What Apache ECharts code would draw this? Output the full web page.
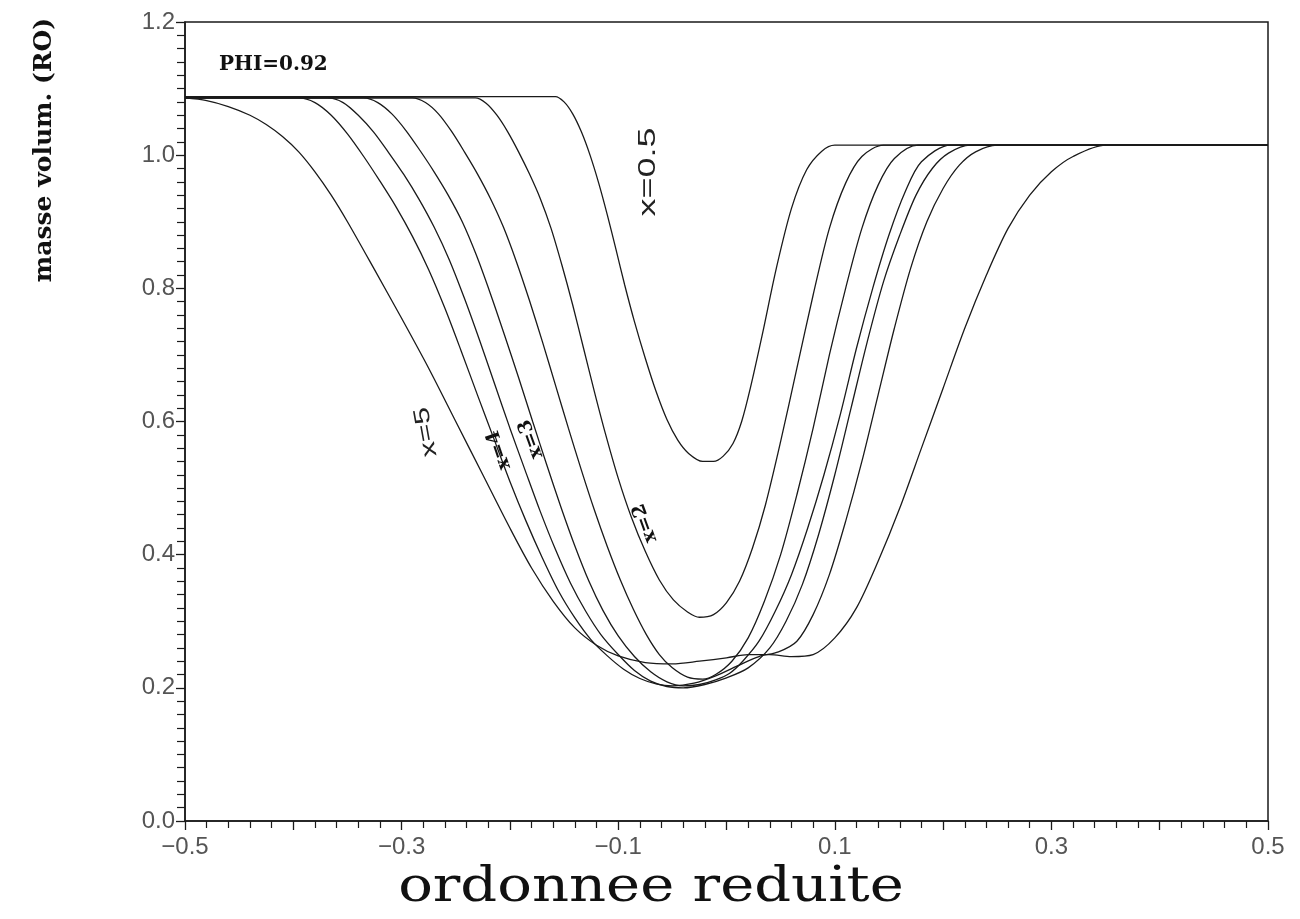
<!DOCTYPE html>
<html>
<head>
<meta charset="utf-8">
<script src="https://cdn.jsdelivr.net/npm/echarts@6/dist/echarts.min.js"></script>
<style>
html,body{margin:0;padding:0;background:#fff;}
#chart{width:1300px;height:919px;}
</style>
</head>
<body>
<div id="chart"></div>
<script>
// profils de masse volumique, PHI=0.92 : [ordonnee reduite, masse volum.]
var curveX05 = [[-0.5,1.088],[-0.158,1.088],[-0.15,1.08],[-0.142,1.062],[-0.134,1.035],[-0.126,1.0],[-0.118,0.958],[-0.11,0.91],[-0.102,0.858],[-0.094,0.805],[-0.085,0.75],[-0.075,0.695],[-0.065,0.645],[-0.055,0.603],[-0.045,0.572],[-0.035,0.552],[-0.022,0.54],[-0.012,0.54],[-0.003,0.548],[0.006,0.567],[0.014,0.6],[0.022,0.65],[0.033,0.73],[0.046,0.83],[0.06,0.92],[0.074,0.978],[0.088,1.006],[0.1,1.015],[0.5,1.015]];
var curveX2 = [[-0.5,1.086],[-0.232,1.086],[-0.222,1.078],[-0.212,1.06],[-0.202,1.035],[-0.192,1.005],[-0.182,0.972],[-0.172,0.935],[-0.162,0.89],[-0.152,0.835],[-0.142,0.775],[-0.132,0.71],[-0.122,0.645],[-0.112,0.583],[-0.1,0.515],[-0.088,0.457],[-0.075,0.405],[-0.062,0.362],[-0.049,0.332],[-0.036,0.314],[-0.025,0.306],[-0.012,0.31],[0,0.328],[0.012,0.36],[0.024,0.41],[0.036,0.475],[0.05,0.57],[0.065,0.68],[0.08,0.79],[0.095,0.89],[0.11,0.958],[0.125,0.998],[0.145,1.015],[0.5,1.015]];
var curve3 = [[-0.5,1.086],[-0.29,1.086],[-0.278,1.079],[-0.266,1.062],[-0.254,1.036],[-0.242,1.005],[-0.23,0.972],[-0.218,0.935],[-0.206,0.892],[-0.194,0.84],[-0.182,0.782],[-0.17,0.72],[-0.158,0.655],[-0.146,0.59],[-0.134,0.527],[-0.122,0.467],[-0.11,0.412],[-0.098,0.362],[-0.086,0.318],[-0.074,0.28],[-0.062,0.25],[-0.05,0.23],[-0.036,0.216],[-0.022,0.213],[-0.01,0.22],[0.005,0.24],[0.02,0.275],[0.035,0.33],[0.05,0.4],[0.065,0.49],[0.08,0.59],[0.095,0.7],[0.11,0.8],[0.125,0.89],[0.14,0.955],[0.155,0.995],[0.177,1.015],[0.5,1.015]];
var curve4 = [[-0.5,1.086],[-0.335,1.086],[-0.322,1.079],[-0.309,1.062],[-0.296,1.037],[-0.283,1.007],[-0.27,0.975],[-0.257,0.94],[-0.244,0.9],[-0.231,0.85],[-0.218,0.792],[-0.205,0.73],[-0.192,0.666],[-0.179,0.6],[-0.166,0.535],[-0.153,0.472],[-0.14,0.413],[-0.127,0.36],[-0.114,0.316],[-0.1,0.278],[-0.085,0.247],[-0.07,0.224],[-0.055,0.209],[-0.04,0.203],[-0.025,0.205],[-0.01,0.212],[0.003,0.222],[0.015,0.24],[0.03,0.27],[0.045,0.315],[0.06,0.37],[0.075,0.44],[0.09,0.52],[0.105,0.61],[0.12,0.71],[0.135,0.8],[0.15,0.88],[0.165,0.945],[0.18,0.99],[0.207,1.015],[0.5,1.015]];
var curve5 = [[-0.5,1.086],[-0.368,1.086],[-0.354,1.079],[-0.34,1.06],[-0.326,1.035],[-0.312,1.004],[-0.298,0.971],[-0.284,0.934],[-0.27,0.892],[-0.256,0.843],[-0.242,0.785],[-0.228,0.722],[-0.214,0.656],[-0.2,0.59],[-0.186,0.527],[-0.172,0.465],[-0.158,0.408],[-0.144,0.357],[-0.13,0.315],[-0.116,0.28],[-0.1,0.25],[-0.085,0.226],[-0.07,0.21],[-0.055,0.202],[-0.04,0.2],[-0.02,0.205],[0,0.215],[0.02,0.23],[0.04,0.26],[0.055,0.3],[0.07,0.355],[0.085,0.43],[0.1,0.52],[0.115,0.62],[0.13,0.72],[0.145,0.81],[0.16,0.88],[0.175,0.94],[0.19,0.98],[0.205,1.003],[0.225,1.015],[0.5,1.015]];
var curve6 = [[-0.5,1.086],[-0.395,1.086],[-0.38,1.079],[-0.365,1.06],[-0.35,1.032],[-0.335,0.998],[-0.32,0.961],[-0.305,0.922],[-0.29,0.878],[-0.275,0.828],[-0.26,0.77],[-0.245,0.706],[-0.23,0.64],[-0.215,0.575],[-0.2,0.51],[-0.185,0.45],[-0.17,0.395],[-0.155,0.345],[-0.14,0.305],[-0.125,0.272],[-0.11,0.248],[-0.095,0.228],[-0.08,0.214],[-0.065,0.206],[-0.05,0.203],[-0.03,0.207],[-0.01,0.218],[0.01,0.233],[0.03,0.247],[0.048,0.254],[0.065,0.27],[0.08,0.31],[0.095,0.37],[0.11,0.45],[0.125,0.54],[0.14,0.64],[0.155,0.74],[0.17,0.83],[0.185,0.9],[0.2,0.95],[0.215,0.985],[0.23,1.005],[0.25,1.015],[0.5,1.015]];
var curveX5 = [[-0.5,1.086],[-0.48,1.082],[-0.46,1.073],[-0.44,1.06],[-0.425,1.046],[-0.41,1.028],[-0.395,1.005],[-0.38,0.975],[-0.365,0.94],[-0.35,0.9],[-0.325,0.828],[-0.3,0.755],[-0.275,0.68],[-0.25,0.6],[-0.225,0.52],[-0.2,0.44],[-0.18,0.38],[-0.16,0.33],[-0.14,0.29],[-0.12,0.264],[-0.1,0.248],[-0.075,0.238],[-0.05,0.236],[-0.025,0.24],[0,0.245],[0.02,0.25],[0.04,0.25],[0.06,0.247],[0.08,0.25],[0.1,0.275],[0.12,0.32],[0.14,0.39],[0.16,0.47],[0.18,0.56],[0.2,0.65],[0.22,0.74],[0.24,0.82],[0.26,0.89],[0.28,0.94],[0.3,0.975],[0.32,0.998],[0.35,1.015],[0.5,1.015]];

var curves = [curveX05, curveX2, curve3, curve4, curve5, curve6, curveX5];
var curveNames = ["x=0.5", "x=2", "courbe 3", "courbe 4", "courbe 5", "courbe 6", "x=5"];
var xLabelValues = [-0.5, -0.3, -0.1, 0.1, 0.3, 0.5];

var myChart = echarts.init(document.getElementById('chart'));

var series = [];
for (var i = 0; i < curves.length; i++) {
	series.push({
		name: curveNames[i],
		type: 'line',
		data: curves[i],
		smooth: 0.3,
		showSymbol: false,
		symbol: 'none',
		silent: true,
		lineStyle: {color: '#1a1a1a', width: 1.3}
	});
}

var tickFont = {color: '#555', fontFamily: 'Liberation Sans', fontSize: 24};

var option = {
	backgroundColor: '#fff',
	animation: false,
	grid: {left: 185, right: 32, top: 22, bottom: 98, show: true, borderColor: '#1a1a1a', borderWidth: 1.5},
	xAxis: {
		type: 'value', min: -0.5, max: 0.5, interval: 0.1,
		axisLine: {onZero: false, lineStyle: {color: '#1a1a1a', width: 1.5}},
		axisTick: {length: 9, lineStyle: {color: '#1a1a1a', width: 1.3}},
		minorTick: {show: true, splitNumber: 5, length: 7, lineStyle: {color: '#1a1a1a', width: 1.2}},
		splitLine: {show: false},
		axisLabel: {
			margin: 14, color: tickFont.color, fontFamily: tickFont.fontFamily, fontSize: tickFont.fontSize,
			customValues: xLabelValues,
			formatter: function(v){ return v.toFixed(1).replace('-', '\u2212'); }
		}
	},
	yAxis: {
		type: 'value', min: 0, max: 1.2, interval: 0.2,
		axisLine: {onZero: false, lineStyle: {color: '#1a1a1a', width: 1.5}},
		axisTick: {length: 9, lineStyle: {color: '#1a1a1a', width: 1.3}},
		minorTick: {show: true, splitNumber: 10, length: 8, lineStyle: {color: '#1a1a1a', width: 1.2}},
		splitLine: {show: false},
		axisLabel: {
			margin: 10, color: tickFont.color, fontFamily: tickFont.fontFamily, fontSize: tickFont.fontSize,
			formatter: function(v){ return v.toFixed(1); }
		}
	},
	graphic: [
		{type: 'text', x: 219, y: 65, style: {text: 'PHI=0.92', font: 'bold 20px "DejaVu Serif"', fill: '#111', textVerticalAlign: 'middle'}},
		{type: 'text', x: 44, y: 150, rotation: Math.PI / 2, style: {text: 'masse volum. (RO)', font: 'bold 25px "DejaVu Serif"', fill: '#111', textAlign: 'center', textVerticalAlign: 'middle'}},
		{type: 'text', x: 651, y: 889, scaleX: 1.2, style: {text: 'ordonnee reduite', font: '48px "DejaVu Serif"', fill: '#111', textAlign: 'center', textVerticalAlign: 'middle'}},
		// etiquettes des courbes
		{type: 'text', x: 648, y: 172, rotation: Math.PI / 2, scaleX: 1.5, style: {text: 'x=0.5', font: '24px "Liberation Sans"', fill: '#222', textAlign: 'center', textVerticalAlign: 'middle'}},
		{type: 'text', x: 426, y: 432, rotation: 1.75, scaleX: 1.4, style: {text: 'x=5', font: '22px "Liberation Sans"', fill: '#222', textAlign: 'center', textVerticalAlign: 'middle'}},
		{type: 'text', x: 499, y: 450, rotation: 1.9, style: {text: 'x=4', font: 'bold 19px "DejaVu Serif"', fill: '#111', textAlign: 'center', textVerticalAlign: 'middle'}},
		{type: 'text', x: 531, y: 439, rotation: 1.92, style: {text: 'x=3', font: 'bold 19px "DejaVu Serif"', fill: '#111', textAlign: 'center', textVerticalAlign: 'middle'}},
		{type: 'text', x: 645, y: 523, rotation: 1.92, style: {text: 'x=2', font: 'bold 19px "DejaVu Serif"', fill: '#111', textAlign: 'center', textVerticalAlign: 'middle'}}
	],
	series: series
};

myChart.setOption(option);
</script>
</body>
</html>
